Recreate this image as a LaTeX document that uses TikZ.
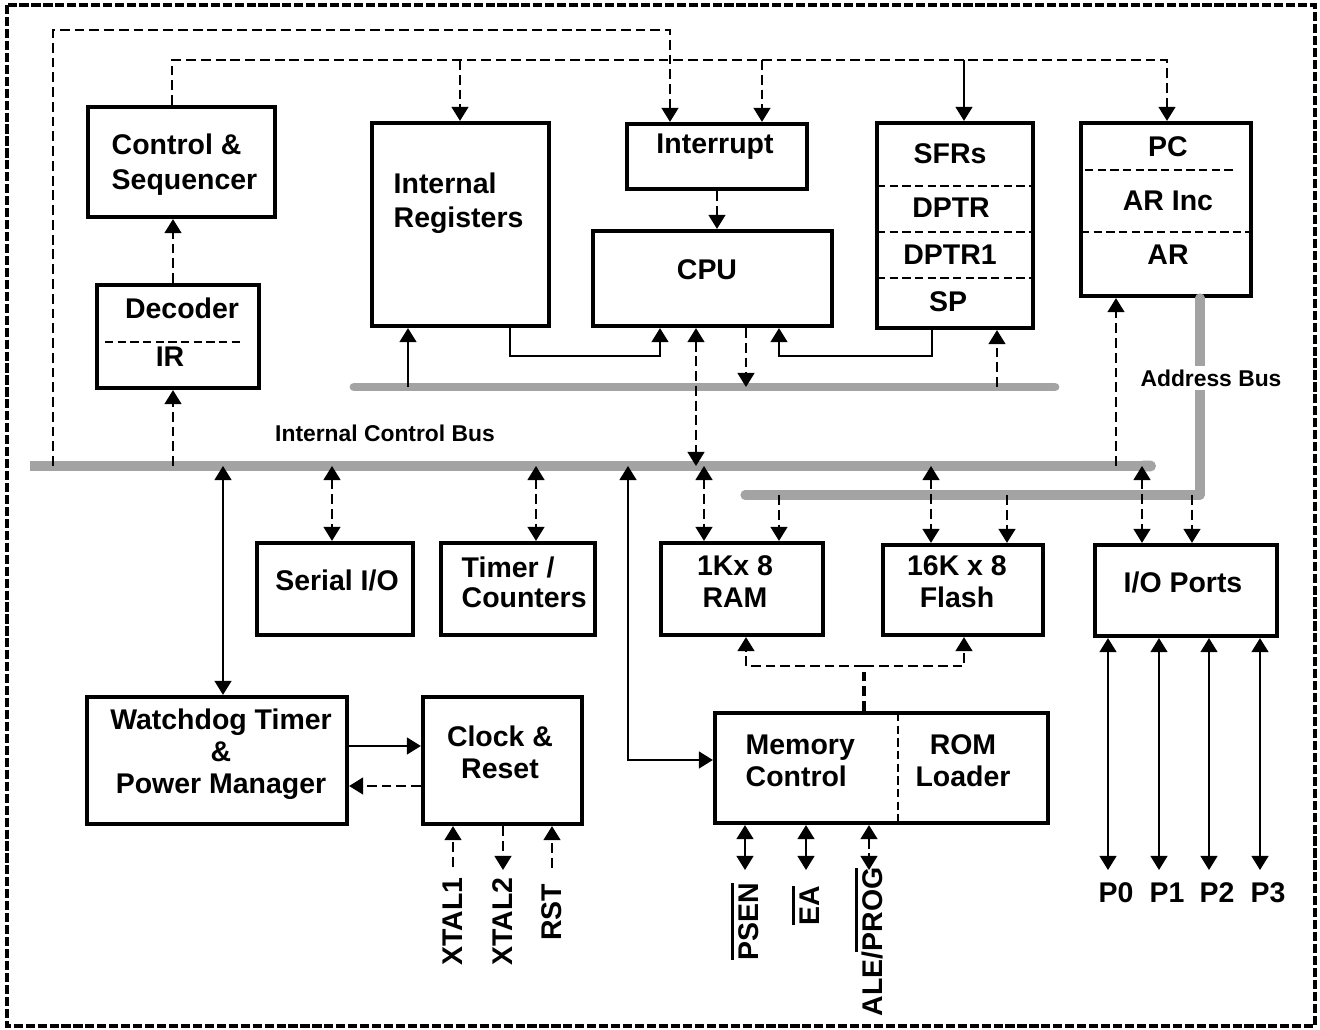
\documentclass[tikz,border=0pt]{standalone}
\usepackage{fontspec}
\setmainfont{Liberation Sans}
\usetikzlibrary{arrows.meta,positioning}
\definecolor{busgray}{HTML}{A3A3A3}
\newcommand{\ovl}[1]{\vbox{\hrule height 0.8pt\kern1.4pt\hbox{#1}}}
\tikzset{
  blk/.style={draw,line width=1.2pt,inner sep=0pt},
  txt/.style={font=\fontsize{8.1}{9.1}\selectfont\bfseries,inner sep=0pt,align=center},
  txtl/.style={txt,align=left},
  pinlbl/.style={txt,rotate=90,anchor=east},
  buslbl/.style={font=\fontsize{6.5}{7.5}\selectfont\bfseries,inner sep=1pt},
  wire/.style={line width=0.55pt},
  dwire/.style={wire,dash pattern=on 2.8pt off 1.4pt},
  divline/.style={line width=0.5pt,dash pattern=on 2.4pt off 1.2pt},
  bus/.style={busgray,line width=2.9pt,line cap=round},
  >={Triangle[length=4pt,width=4.8pt]}
}
\begin{document}
\begin{tikzpicture}[x=0.1mm,y=-0.1mm]
  \useasboundingbox (0,0) rectangle (1320,1030);
  \draw[line width=1.1pt,dash pattern=on 2.6pt off 0.8pt] (7,5) rectangle (1315,1026);

  % blocks
  \node[blk,minimum width=18.7mm,minimum height=11mm] (ctrl) at (181.5,162) {};
  \node[txtl,font=\fontsize{8.1}{9.9}\selectfont\bfseries] (ctrlt) at (184.5,164.5) {Control \&\\Sequencer};
  \node[blk,minimum width=16.2mm,minimum height=10.3mm] (dec) at (178,336.5) {};
  \node[txt] (dect) at (182,308) {Decoder};
  \node[txt] (irt) at (170,357) {IR};
  \draw[divline] (105,342) -- (241,342);

  \node[blk,minimum width=17.7mm,minimum height=20.3mm] (ireg) at (460.5,224.5) {};
  \node[txtl,anchor=west,font=\fontsize{8.1}{9.7}\selectfont\bfseries] (iregt) at (393,203) {Internal\\Registers};
  \node[blk,minimum width=18mm,minimum height=6.5mm] (intr) at (717,156.5) {};
  \node[txt] (intrt) at (715,147) {Interrupt};
  \node[blk,minimum width=23.9mm,minimum height=9.5mm] (cpu) at (712.5,278.5) {};
  \node[txt] (cput) at (707,270) {CPU};

  \node[blk,minimum width=15.6mm,minimum height=20.5mm] (sfr) at (955,225.5) {};
  \foreach \y in {186,232,278} \draw[divline] (877,\y) -- (1033,\y);
  \node[txt] (sfrt) at (950,154) {SFRs};
  \node[txt] (dptrt) at (951,208) {DPTR};
  \node[txt] (dptr1t) at (950,255) {DPTR1};
  \node[txt] (spt) at (948,302) {SP};

  \node[blk,minimum width=17mm,minimum height=17.3mm] (pc) at (1166,209.5) {};
  \draw[divline] (1085,170) -- (1235,170);
  \draw[divline] (1081,232) -- (1251,232);
  \node[txt] (pct) at (1168,147) {PC};
  \node[txt] (arinct) at (1168,201) {AR Inc};
  \node[txt] (art) at (1168,255) {AR};

  \node[blk,minimum width=15.6mm,minimum height=9.2mm] (ser) at (335,589) {};
  \node[txt] (sert) at (337,580) {Serial I/O};
  \node[blk,minimum width=15.4mm,minimum height=9.2mm] (tmr) at (518,589) {};
  \node[txtl,anchor=west,font=\fontsize{8.1}{8.6}\selectfont\bfseries] (tmrt) at (461,582) {Timer /\\Counters};
  \node[blk,minimum width=16.2mm,minimum height=9.2mm] (ram) at (742,589) {};
  \node[txt] (ramt) at (735,582) {1Kx 8\\RAM};
  \node[blk,minimum width=16mm,minimum height=9mm] (fls) at (963,590) {};
  \node[txt] (flst) at (957,582) {16K x 8\\Flash};
  \node[blk,minimum width=18.2mm,minimum height=9.1mm] (iop) at (1186,590.5) {};
  \node[txt] (iopt) at (1183,582) {I/O Ports};

  \node[blk,minimum width=26mm,minimum height=12.7mm] (wdt) at (217,760.5) {};
  \node[txt] (wdtt) at (221,754) {Watchdog Timer\\\&\\Power Manager};
  \node[blk,minimum width=15.9mm,minimum height=12.7mm] (clk) at (502.5,760.5) {};
  \node[txt] (clkt) at (500,752) {Clock \&\\Reset};
  \node[blk,minimum width=33.3mm,minimum height=11mm] (mem) at (881.5,768) {};
  \draw[divline] (898,713) -- (898,823);
  \node[txtl,anchor=west] (memt) at (745,761) {Memory\\Control};
  \node[txt] (romt) at (963,761) {ROM\\Loader};

  % buses
  \draw[bus,line width=3.1pt,line cap=butt,-{Round Cap[]}] (30,466) -- (1156,466);
  \draw[bus,line width=2.5pt] (354,387) -- (1055,387);
  \draw[bus,line width=2.6pt,line join=round] (1200,298) -- (1200,495) -- (745,495);
  \node[buslbl] (cbl) at (385,433) {Internal Control Bus};
  \node[buslbl,fill=white] (abl) at (1211,378) {Address Bus};

  % control lines from the top
  \coordinate (cb0) at (53,466);
  \coordinate (t1) at (670,30);
  \draw[dwire,->] (cb0) |- (t1) -- (t1 |- intr.north);
  \coordinate (t2a) at (172,60);
  \coordinate (t2b) at (1167,60);
  \draw[dwire,->] (ctrl.north -| t2a) -- (t2a) -- (t2b) -- (t2b |- pc.north);
  \coordinate (t2c) at (460,60);
  \coordinate (t2d) at (762,60);
  \coordinate (t2e) at (964,60);
  \draw[dwire,->] (t2c) -- (t2c |- ireg.north);
  \draw[dwire,->] (t2d) -- (t2d |- intr.north);
  \draw[wire,->] (t2e) -- (t2e |- sfr.north);
  \draw[dwire,->] (intr.south) -- (cpu.north -| intr.south);

  % internal control bus taps
  \coordinate (cb1) at (173,466);
  \draw[dwire,->] (cb1) -- (cb1 |- dec.south);
  \draw[dwire,->] (cb1 |- dec.north) -- (cb1 |- ctrl.south);
  \coordinate (cb2) at (223,466);
  \draw[wire,<->] (cb2) -- (cb2 |- wdt.north);
  \coordinate (cb3) at (332,466);
  \draw[dwire,<->] (cb3) -- (cb3 |- ser.north);
  \coordinate (cb4) at (536,466);
  \draw[dwire,<->] (cb4) -- (cb4 |- tmr.north);
  \coordinate (cb5) at (628,466);
  \draw[wire,<->] (cb5) |- ([yshift=0.8mm]mem.west);
  \coordinate (cb6) at (696,466);
  \draw[dwire,<->] (cpu.south -| cb6) -- (cb6);
  \coordinate (cb7) at (704,466);
  \draw[dwire,<->] (cb7) -- (cb7 |- ram.north);
  \coordinate (cb8) at (931,466);
  \draw[dwire,<->] (cb8) -- (cb8 |- fls.north);
  \coordinate (cb9) at (1116,466);
  \draw[dwire,->] (cb9) -- (cb9 |- pc.south);
  \coordinate (cb10) at (1142,466);
  \draw[dwire,<->] (cb10) -- (cb10 |- iop.north);

  % address bus taps
  \coordinate (ab1) at (779,495);
  \draw[dwire,->] (ab1) -- (ab1 |- ram.north);
  \coordinate (ab2) at (1007,495);
  \draw[dwire,->] (ab2) -- (ab2 |- fls.north);
  \coordinate (ab3) at (1192,495);
  \draw[dwire,->] (ab3) -- (ab3 |- iop.north);

  % data bus taps
  \coordinate (db1) at (408,387);
  \draw[wire,->] (db1) -- (db1 |- ireg.south);
  \coordinate (r1) at (510,356);
  \coordinate (r2) at (660,356);
  \draw[wire,->] (r1 |- ireg.south) -- (r1) -- (r2) -- (r2 |- cpu.south);
  \coordinate (r3) at (932,356);
  \coordinate (r4) at (779,356);
  \draw[wire,->] (r3 |- sfr.south) -- (r3) -- (r4) -- (r4 |- cpu.south);
  \coordinate (db2) at (746,387);
  \draw[dwire,->] (db2 |- cpu.south) -- (db2);
  \coordinate (db3) at (997,387);
  \draw[dwire,->] (db3) -- (db3 |- sfr.south);

  % memory control to RAM and Flash
  \coordinate (mj) at (864,666);
  \coordinate (m1) at (746,666);
  \coordinate (m2) at (964,666);
  \draw[dwire,line width=1pt] (mj |- mem.north) -- (mj);
  \draw[dwire,->] (mj) -- (m1) -- (m1 |- ram.south);
  \draw[dwire,->] (mj) -- (m2) -- (m2 |- fls.south);

  % watchdog and clock
  \draw[wire,->] ([yshift=1.45mm]wdt.east) -- ([yshift=1.45mm]clk.west);
  \draw[dwire,->] ([yshift=-2.55mm]clk.west) -- ([yshift=-2.55mm]wdt.east);

  % clock pins
  \node[pinlbl] (xt1) at (453,877) {XTAL1};
  \node[pinlbl] (xt2) at (503,877) {XTAL2};
  \node[pinlbl] (rst) at (552,883) {RST};
  \draw[dwire,->] ([yshift=1mm]xt1.east) -- (xt1.east |- clk.south);
  \draw[dwire,->] (xt2.east |- clk.south) -- ([yshift=0.7mm]xt2.east);
  \draw[dwire,->] ([yshift=1.5mm]rst.east) -- (rst.east |- clk.south);

  % memory pins
  \node[pinlbl] (psen) at (745,882) {\ovl{PSEN}};
  \node[pinlbl] (ea) at (806,885) {\ovl{EA}};
  \node[pinlbl] (ale) at (869,867) {ALE/\ovl{PROG}};
  \draw[wire,<->] (psen.east |- mem.south) -- ([yshift=1.2mm]psen.east);
  \draw[wire,<->] (ea.east |- mem.south) -- ([yshift=1.5mm]ea.east);
  \draw[dwire,<->] (ale.east |- mem.south) -- ([yshift=-0.3mm]ale.east);

  % port pins
  \foreach \i/\x in {0/1108,1/1159,2/1209,3/1260}{
    \coordinate (q\i) at (\x,870);
    \draw[wire,<->] (iop.south -| q\i) -- (q\i);
    \node[txt] (p\i) at (\x+8,893) {P\i};
  }
\end{tikzpicture}
\end{document}
